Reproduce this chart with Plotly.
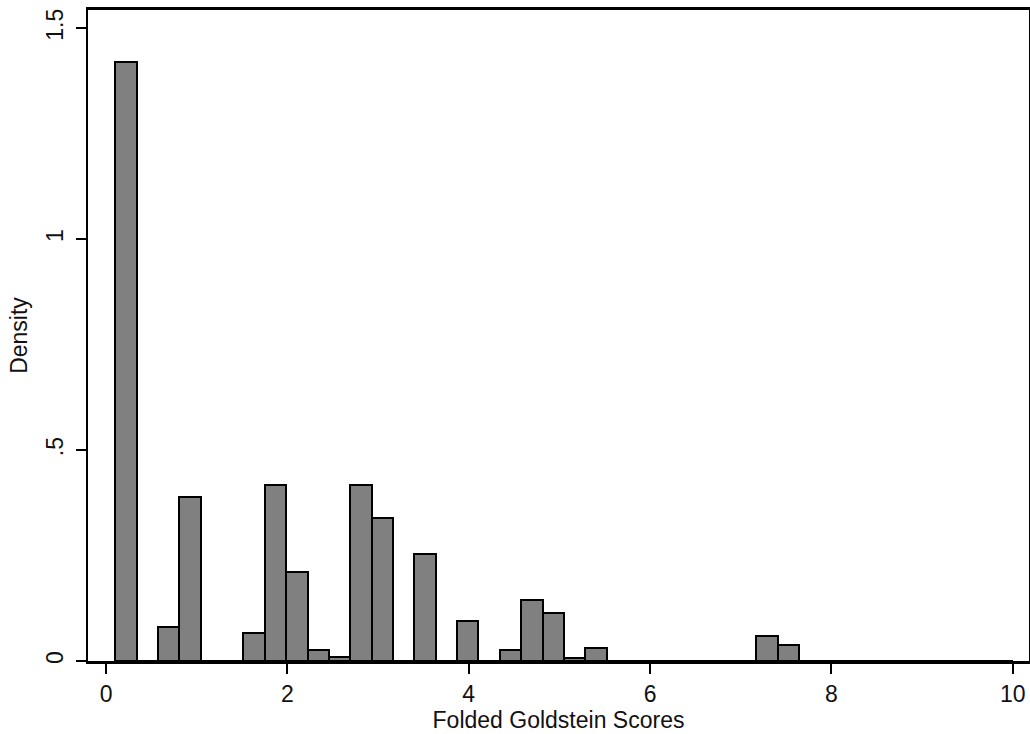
import plotly.graph_objects as go

# Histogram data (density), 42 bins from 0.1 to 10
bin_low = 0.1
bin_high = 10.0
n_bins = 42
density = [
    1.419, 0.0, 0.081, 0.389, 0.0, 0.0, 0.066, 0.416, 0.210, 0.026,
    0.009, 0.416, 0.340, 0.0, 0.253, 0.0, 0.0955, 0.0, 0.025, 0.1445,
    0.113, 0.008, 0.0316, 0.0, 0.0, 0.0, 0.0, 0.0, 0.0, 0.0,
    0.060, 0.038, 0.0, 0.0, 0.0, 0.0, 0.0, 0.0, 0.0, 0.0,
    0.0, 0.0,
]
x_ticks = [0, 2, 4, 6, 8, 10]
y_ticks = [0, 0.5, 1, 1.5]
y_tick_text = ["0", ".5", "1", "1.5"]
x_title = "Folded Goldstein Scores"
y_title = "Density"

bw = (bin_high - bin_low) / n_bins
centers = [bin_low + bw * (i + 0.5) for i in range(n_bins)]

FONT = "Liberation Sans, Arial, sans-serif"
FS = 23

fig = go.Figure(
    go.Bar(
        x=centers,
        y=density,
        width=bw,
        marker=dict(color="#808080", line=dict(color="black", width=2)),
        showlegend=False,
        hoverinfo="skip",
    )
)

fig.update_layout(
    width=1030,
    height=734,
    margin=dict(l=88, r=1, t=10, b=73, autoexpand=False),
    paper_bgcolor="white",
    plot_bgcolor="white",
    font=dict(family=FONT, size=FS, color="#111111"),
    bargap=0,
    xaxis=dict(
        range=[-0.2, 10.18],
        tickvals=x_ticks,
        ticks="outside",
        ticklen=10,
        tickwidth=2,
        tickcolor="black",
        showline=True,
        linecolor="black",
        linewidth=3,
        mirror=True,
        showgrid=False,
        zeroline=False,
        automargin=False,
        title=dict(text=x_title, standoff=0, font=dict(size=FS)),
        tickfont=dict(size=FS),
    ),
    yaxis=dict(
        range=[0, 1.543],
        tickvals=y_ticks,
        ticktext=y_tick_text,
        tickangle=-90,
        ticks="outside",
        ticklen=10,
        tickwidth=2,
        tickcolor="black",
        showline=True,
        linecolor="black",
        linewidth=2,
        mirror=True,
        showgrid=False,
        zeroline=False,
        automargin=False,
        ticklabelstandoff=4,
        title=dict(text=y_title, standoff=8, font=dict(size=FS)),
        tickfont=dict(size=FS),
    ),
)

fig.write_html(
    "out.html",
    config={"displayModeBar": False},
    post_script="document.body.style.margin='0';document.body.style.overflow='hidden';",
)
